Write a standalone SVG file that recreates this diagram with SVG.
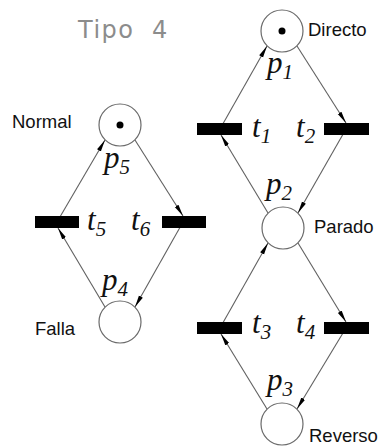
<svg xmlns="http://www.w3.org/2000/svg" width="385" height="447" viewBox="0 0 385 447">
  <style>
    .place { fill: #ffffff; stroke: #6a6a6a; stroke-width: 1.2; }
    .token { fill: #000000; }
    .bar { fill: #000000; }
    .arc { fill: none; stroke: #606060; stroke-width: 1.1; marker-end: url(#head); }
    .name { font-family: "Liberation Sans", Arial, sans-serif; font-size: 18.5px; fill: #111111; }
    .sym { font-family: "Liberation Serif", "Times New Roman", serif; font-style: italic; font-size: 31px; fill: #111111; }
    .sub { font-size: 21px; }
    .title { font-family: "DejaVu Sans", sans-serif; font-size: 24px; fill: #8c8c8c; letter-spacing: 1.5px; }
  </style>
  <defs>
    <marker id="head" markerUnits="userSpaceOnUse" markerWidth="14" markerHeight="8" refX="12" refY="4" orient="auto">
      <path d="M0,1.8 L12,4 L0,6.2 z" fill="#000000"/>
    </marker>
  </defs>

  <rect width="385" height="447" fill="#ffffff"/>

  <text class="title" x="78" y="38">Tipo</text>
  <text class="title" x="152" y="38">4</text>

  <!-- arcs -->
  <g id="connectors">
    <path class="arc" d="M220,129 L267,46"/>
    <path class="arc" d="M297,46 L346,123"/>
    <path class="arc" d="M346,129 L298,213"/>
    <path class="arc" d="M268,213 L221,135"/>
    <path class="arc" d="M220,328 L268,243"/>
    <path class="arc" d="M298,243 L346,322"/>
    <path class="arc" d="M346,328 L297,409"/>
    <path class="arc" d="M267,409 L221,334"/>
    <path class="arc" d="M57,222 L105,140"/>
    <path class="arc" d="M135,140 L183,216"/>
    <path class="arc" d="M183,222 L135,307"/>
    <path class="arc" d="M105,307 L58,228"/>
  </g>

  <!-- places -->
  <g id="p1">
    <circle class="place" cx="282" cy="31" r="21"/>
    <circle class="token" cx="282" cy="31" r="3.5"/>
    <text class="name" x="308" y="36">Directo</text>
    <text class="sym" x="267" y="73">p<tspan class="sub" dy="6">1</tspan></text>
  </g>
  <g id="p2">
    <circle class="place" cx="283" cy="228" r="21"/>
    <text class="name" x="314" y="233">Parado</text>
    <text class="sym" x="266" y="194">p<tspan class="sub" dy="6">2</tspan></text>
  </g>
  <g id="p3">
    <circle class="place" cx="282" cy="424" r="21"/>
    <text class="name" x="309" y="442">Reverso</text>
    <text class="sym" x="267" y="390">p<tspan class="sub" dy="6">3</tspan></text>
  </g>
  <g id="p4">
    <circle class="place" cx="120" cy="322" r="21"/>
    <text class="name" x="35" y="335">Falla</text>
    <text class="sym" x="102" y="290">p<tspan class="sub" dy="6">4</tspan></text>
  </g>
  <g id="p5">
    <circle class="place" cx="120" cy="125" r="21"/>
    <circle class="token" cx="120" cy="125" r="3.5"/>
    <text class="name" x="12" y="128">Normal</text>
    <text class="sym" x="104" y="168">p<tspan class="sub" dy="6">5</tspan></text>
  </g>

  <!-- transitions -->
  <g id="t1">
    <rect class="bar" x="197" y="123" width="45" height="12"/>
    <text class="sym" x="252" y="137">t<tspan class="sub" dy="6">1</tspan></text>
  </g>
  <g id="t2">
    <rect class="bar" x="324" y="123" width="45" height="12"/>
    <text class="sym" x="296" y="137">t<tspan class="sub" dy="6">2</tspan></text>
  </g>
  <g id="t3">
    <rect class="bar" x="197" y="322" width="45" height="12"/>
    <text class="sym" x="252" y="333">t<tspan class="sub" dy="6">3</tspan></text>
  </g>
  <g id="t4">
    <rect class="bar" x="324" y="322" width="45" height="12"/>
    <text class="sym" x="296" y="333">t<tspan class="sub" dy="6">4</tspan></text>
  </g>
  <g id="t5">
    <rect class="bar" x="35" y="216" width="44" height="12"/>
    <text class="sym" x="87" y="230">t<tspan class="sub" dy="6">5</tspan></text>
  </g>
  <g id="t6">
    <rect class="bar" x="162" y="216" width="44" height="12"/>
    <text class="sym" x="131" y="230">t<tspan class="sub" dy="6">6</tspan></text>
  </g>
</svg>
